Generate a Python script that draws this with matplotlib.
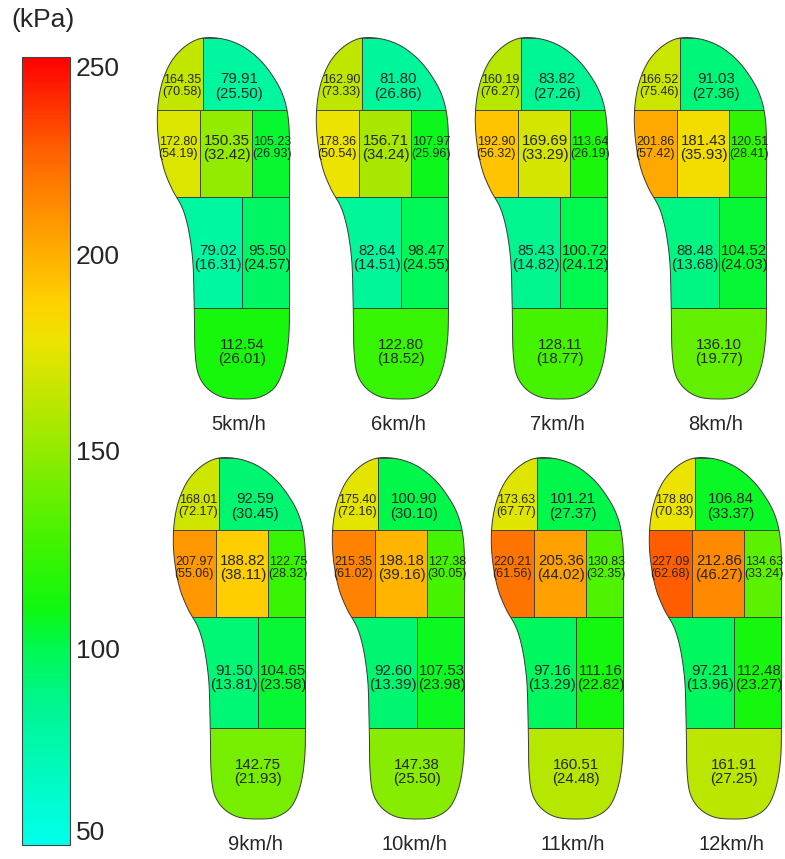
import numpy as np
import matplotlib
matplotlib.use("Agg")
import matplotlib.pyplot as plt
from matplotlib.colors import LinearSegmentedColormap, Normalize
from matplotlib.cm import ScalarMappable
from matplotlib.patches import Polygon, Rectangle

plt.rcParams['font.family'] = ['Liberation Sans', 'DejaVu Sans']

# Peak pressure per region, mean and (SD), kPa
speeds = ['5km/h', '6km/h', '7km/h', '8km/h', '9km/h', '10km/h', '11km/h', '12km/h']
hallux_mean = [164.35, 162.90, 160.19, 166.52, 168.01, 175.40, 173.63, 178.80]
hallux_sd = [70.58, 73.33, 76.27, 75.46, 72.17, 72.16, 67.77, 70.33]
toes_mean = [79.91, 81.80, 83.82, 91.03, 92.59, 100.90, 101.21, 106.84]
toes_sd = [25.50, 26.86, 27.26, 27.36, 30.45, 30.10, 27.37, 33.37]
med_ff_mean = [172.80, 178.36, 192.90, 201.86, 207.97, 215.35, 220.21, 227.09]
med_ff_sd = [54.19, 50.54, 56.32, 57.42, 55.06, 61.02, 61.56, 62.68]
cen_ff_mean = [150.35, 156.71, 169.69, 181.43, 188.82, 198.18, 205.36, 212.86]
cen_ff_sd = [32.42, 34.24, 33.29, 35.93, 38.11, 39.16, 44.02, 46.27]
lat_ff_mean = [105.23, 107.97, 113.64, 120.51, 122.75, 127.38, 130.83, 134.63]
lat_ff_sd = [26.93, 25.96, 26.19, 28.41, 28.32, 30.05, 32.35, 33.24]
med_mf_mean = [79.02, 82.64, 85.43, 88.48, 91.50, 92.60, 97.16, 97.21]
med_mf_sd = [16.31, 14.51, 14.82, 13.68, 13.81, 13.39, 13.29, 13.96]
lat_mf_mean = [95.50, 98.47, 100.72, 104.52, 104.65, 107.53, 111.16, 112.48]
lat_mf_sd = [24.57, 24.55, 24.12, 24.03, 23.58, 23.98, 22.82, 23.27]
heel_mean = [112.54, 122.80, 128.11, 136.10, 142.75, 147.38, 160.51, 161.91]
heel_sd = [26.01, 18.52, 18.77, 19.77, 21.93, 25.50, 24.48, 27.25]

cbar_ticks = [50, 100, 150, 200, 250]

# colour scale cyan -> green -> yellow -> red (sampled from the bar)
anchors = [(50, (0, 255, 235)), (70, (0, 250, 185)), (85, (0, 245, 145)),
           (100, (0, 248, 80)), (110, (15, 248, 15)), (125, (60, 243, 0)),
           (137, (100, 240, 0)), (150, (145, 235, 0)), (163, (190, 230, 0)),
           (178, (235, 228, 0)), (188, (255, 208, 0)), (201, (255, 172, 0)),
           (214, (255, 135, 0)), (226, (255, 98, 0)), (239, (255, 45, 0)),
           (250, (255, 0, 0))]
cmap = LinearSegmentedColormap.from_list(
    'kpa', [((v - 50) / 200, tuple(c / 255 for c in rgb)) for v, rgb in anchors])
norm = Normalize(50, 250)


def smooth_closed(pts, n=16):
    # closed Catmull-Rom curve through the outline points
    pts = np.asarray(pts, float)
    m = len(pts)
    t = np.linspace(0, 1, n, endpoint=False)[:, None]
    out = []
    for i in range(m):
        p0, p1, p2, p3 = pts[i - 1], pts[i], pts[(i + 1) % m], pts[(i + 2) % m]
        out.append(0.5 * (2 * p1 + (-p0 + p2) * t + (2 * p0 - 5 * p1 + 4 * p2 - p3) * t ** 2
                          + (-p0 + 3 * p1 - 3 * p2 + p3) * t ** 3))
    return np.vstack(out)


# insole outline, pixels relative to top-left of the foot
outline = smooth_closed([
    (46, 0), (66, 1), (85, 8), (102, 21), (115, 37), (125, 55), (130.5, 75),
    (132.5, 102), (132.5, 160), (132.5, 225), (132.5, 270), (131.5, 302),
    (127, 329), (118, 349), (103, 359), (85, 361), (65, 359), (50, 350),
    (41, 335), (38, 312), (37.5, 285), (37, 259), (36, 226), (33, 200),
    (29, 181), (24, 167), (15, 151), (7, 131), (2, 106), (0.3, 82),
    (2, 59), (7, 39), (16, 21), (30, 7)])

# row and column splits of the masks
rows = [0, 72, 159, 270, 365]
cells = [
    # x0, x1, row, text x, text y, small font
    (-5, 46, 0, 25, 48, True),
    (46, 140, 0, 82, 48.5, False),
    (-5, 43, 1, 21, 110, True),
    (43, 95, 1, 70, 110, False),
    (95, 140, 1, 115, 110, True),
    (-5, 85, 2, 61, 220, False),
    (85, 140, 2, 110, 220, False),
    (-5, 140, 3, 85, 314, False),
]
series = [(hallux_mean, hallux_sd), (toes_mean, toes_sd), (med_ff_mean, med_ff_sd),
          (cen_ff_mean, cen_ff_sd), (lat_ff_mean, lat_ff_sd), (med_mf_mean, med_mf_sd),
          (lat_mf_mean, lat_mf_sd), (heel_mean, heel_sd)]

foot_left = [157, 316, 475, 634, 173, 332, 491, 649]
foot_top = [38, 38, 38, 38, 458, 458, 458, 458]

W, H = 785, 859
fig = plt.figure(figsize=(W / 100, H / 100), dpi=100)
ax = fig.add_axes([0, 0, 1, 1])
ax.set_xlim(0, W)
ax.set_ylim(H, 0)
ax.axis('off')

for k, speed in enumerate(speeds):
    L, T = foot_left[k], foot_top[k]
    shape = Polygon(outline + [L, T], closed=True, facecolor='none',
                    edgecolor='#3a3a3a', lw=0.7, zorder=3)
    ax.add_patch(shape)
    for (x0, x1, r, tx, ty, small), (means, sds) in zip(cells, series):
        rect = Rectangle((L + x0, T + rows[r]), x1 - x0, rows[r + 1] - rows[r],
                         facecolor=cmap(norm(means[k])), edgecolor='#3a3a3a',
                         lw=0.6, zorder=2)
        ax.add_patch(rect)
        rect.set_clip_path(shape)
        ax.text(L + tx, T + ty, f"{means[k]:.2f}\n({sds[k]:.2f})",
                ha='center', va='center', fontsize=9.0 if small else 10.8,
                linespacing=1.08, color='#262626', zorder=4)
    ax.text(L + 82, T + 386, speed, ha='center', va='center',
            fontsize=14.5, color='#262626')

# colour bar
cax = fig.add_axes([22 / W, (H - 845) / H, 48 / W, 788 / H])
sm = ScalarMappable(norm=norm, cmap=cmap)
cb = fig.colorbar(sm, cax=cax)
cb.outline.set_edgecolor('#444444')
cb.outline.set_linewidth(0.8)
cax.set_yticks(cbar_ticks)
cax.set_yticklabels([str(t) for t in cbar_ticks])
cax.tick_params(length=0, pad=4, labelsize=19, labelcolor='#262626')
tl = cax.get_yticklabels()
tl[0].set_va('bottom')
tl[-1].set_va('top')
ax.text(43, 20, '(kPa)', ha='center', va='center', fontsize=19, color='#262626')

fig.savefig('out.png', dpi=100)
